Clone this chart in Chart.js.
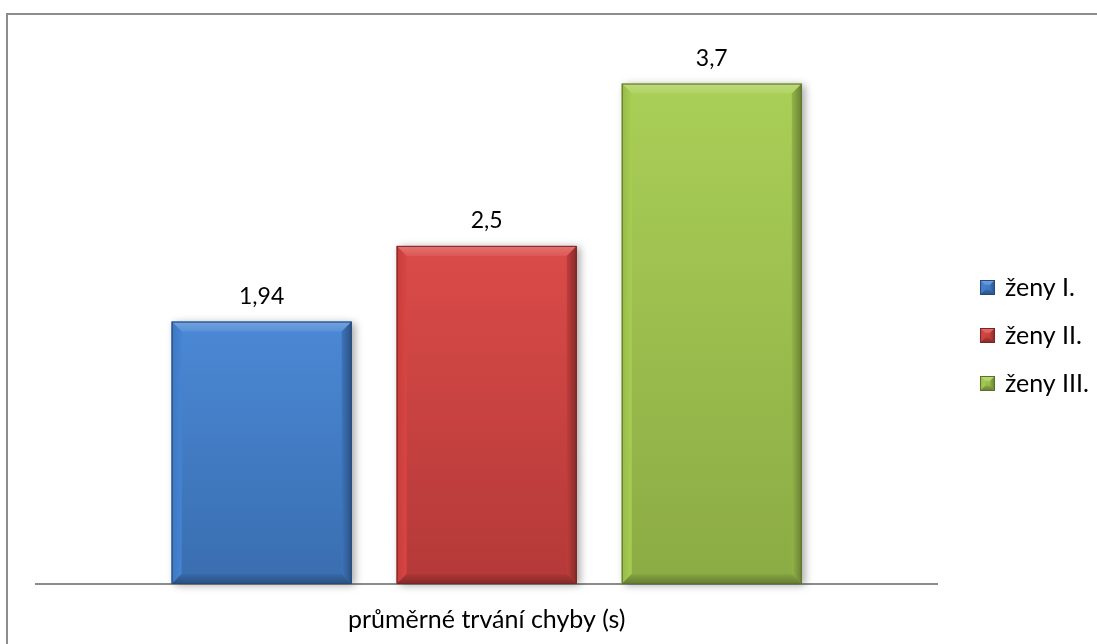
<!DOCTYPE html>
<html>
<head>
<meta charset="utf-8">
<script src="https://cdn.jsdelivr.net/npm/chart.js@4.4.1/dist/chart.umd.min.js"></script>
<style>
  html, body { margin: 0; padding: 0; background: #fff; overflow: hidden; }
  #frame { position: absolute; left: 6px; top: 13px; width: 1200px; height: 800px; border: 2px solid #8c8c8c; }
  #chart { position: absolute; left: 0; top: 0; }
</style>
</head>
<body>
<div id="frame"></div>
<canvas id="chart" width="1097" height="644"></canvas>
<script>
// --- data ---
const categories = ['průměrné trvání chyby (s)'];
const seriesNames = ['ženy I.', 'ženy II.', 'ženy III.'];
const seriesValues = [1.94, 2.5, 3.7];
const seriesColors = ['#4584d4', '#d94543', '#a7ce52'];
const yMax = 4;

const FONT = 'Lato, "Open Sans", sans-serif';

// lighten (f > 0) or darken (f < 0) a hex colour
function shade(hex, f) {
    const n = parseInt(hex.slice(1), 16);
    const mix = f < 0 ? 0 : 255, t = Math.abs(f);
    const c = [n >> 16, (n >> 8) & 255, n & 255].map(v => Math.round(v + (mix - v) * t));
    return `rgb(${c[0]},${c[1]},${c[2]})`;
}

// paints a bevelled box (body + four edges)
function paintBevel(ctx, L, T, R, B, color, b) {
    let g = ctx.createLinearGradient(0, T, 0, B);
    g.addColorStop(0, shade(color, 0.03));
    g.addColorStop(1, shade(color, -0.17));
    ctx.fillStyle = g;
    ctx.fillRect(L, T, R - L, B - T);

    const poly = (pts, fill) => {
        ctx.beginPath();
        ctx.moveTo(pts[0], pts[1]);
        for (let k = 2; k < pts.length; k += 2) ctx.lineTo(pts[k], pts[k + 1]);
        ctx.closePath();
        ctx.fillStyle = fill;
        ctx.fill();
    };
    // top
    g = ctx.createLinearGradient(0, T, 0, T + b);
    g.addColorStop(0, shade(color, 0.25));
    g.addColorStop(1, shade(color, 0.1));
    poly([L, T, R, T, R - b, T + b, L + b, T + b], g);
    // left
    g = ctx.createLinearGradient(L, 0, L + b, 0);
    g.addColorStop(0, shade(color, -0.1));
    g.addColorStop(1, shade(color, 0.0));
    poly([L, T, L + b, T + b, L + b, B - b, L, B], g);
    // right
    g = ctx.createLinearGradient(R - b, 0, R, 0);
    g.addColorStop(0, shade(color, -0.12));
    g.addColorStop(1, shade(color, -0.38));
    poly([R, T, R, B, R - b, B - b, R - b, T + b], g);
    // bottom
    g = ctx.createLinearGradient(0, B - b, 0, B);
    g.addColorStop(0, shade(color, -0.2));
    g.addColorStop(1, shade(color, -0.4));
    poly([L, B, R, B, R - b, B - b, L + b, B - b], g);

    ctx.strokeStyle = shade(color, -0.45);
    ctx.lineWidth = 1;
    ctx.strokeRect(L + 0.5, T + 0.5, R - L - 1, B - T - 1);
}

// small bevelled squares for the legend
const legendIcons = seriesColors.map(c => {
    const cv = document.createElement('canvas');
    cv.width = 15; cv.height = 15;
    paintBevel(cv.getContext('2d'), 0, 0, 15, 15, c, 5);
    return cv;
});

const bevelPlugin = {
    id: 'bevel',
    afterLayout(chart) {
        // move the legend block next to the plot
        chart.legend.left += 22;
        chart.legend.right += 22;
        chart.legend.top -= 14;
        chart.legend.bottom -= 14;
    },
    beforeDatasetsDraw(chart) {
        const ctx = chart.ctx;
        chart.data.datasets.forEach((ds, i) => {
            chart.getDatasetMeta(i).data.forEach(bar => {
                const L = bar.x - bar.width / 2;
                ctx.save();
                ctx.shadowColor = 'rgba(0,0,0,0.35)';
                ctx.shadowBlur = 8;
                ctx.shadowOffsetX = 3;
                ctx.shadowOffsetY = 1;
                ctx.fillStyle = '#fff';
                ctx.fillRect(L, bar.y, bar.width, bar.base - bar.y);
                ctx.restore();
            });
        });
    },
    afterDatasetsDraw(chart) {
        const ctx = chart.ctx;
        chart.data.datasets.forEach((ds, i) => {
            chart.getDatasetMeta(i).data.forEach((bar, j) => {
                const L = bar.x - bar.width / 2, R = bar.x + bar.width / 2;
                ctx.save();
                paintBevel(ctx, L, bar.y, R, bar.base, seriesColors[i], 10);
                ctx.font = '23px ' + FONT;
                ctx.fillStyle = '#000';
                ctx.textAlign = 'center';
                ctx.textBaseline = 'alphabetic';
                ctx.fillText(String(ds.data[j]).replace('.', ','), bar.x, bar.y - 18);
                ctx.restore();
            });
        });
    }
};

new Chart(document.getElementById('chart'), {
    type: 'bar',
    data: {
        labels: categories,
        datasets: seriesNames.map((name, i) => ({
            label: name,
            data: [seriesValues[i]],
            backgroundColor: seriesColors[i],
            categoryPercentage: 0.749,
            barPercentage: 0.8
        }))
    },
    options: {
        responsive: false,
        animation: false,
        devicePixelRatio: 1,
        layout: { padding: { left: 36, top: 43, right: 20, bottom: -12 } },
        scales: {
            x: {
                grid: { display: false, drawTicks: false },
                border: { color: '#8c8c8c', width: 2 },
                ticks: { color: '#000', font: { family: FONT, size: 25 }, padding: 21 }
            },
            y: { display: false, min: 0, max: yMax }
        },
        plugins: {
            tooltip: { enabled: false },
            legend: {
                position: 'right',
                labels: {
                    usePointStyle: true,
                    pointStyleWidth: 10,
                    boxWidth: 15,
                    boxHeight: 15,
                    padding: 23,
                    color: '#000',
                    font: { family: FONT, size: 25 },
                    generateLabels: chart => chart.data.datasets.map((ds, i) => ({
                        text: ds.label,
                        pointStyle: legendIcons[i],
                        fontColor: '#000',
                        datasetIndex: i
                    }))
                }
            }
        }
    },
    plugins: [bevelPlugin]
});
</script>
</body>
</html>
